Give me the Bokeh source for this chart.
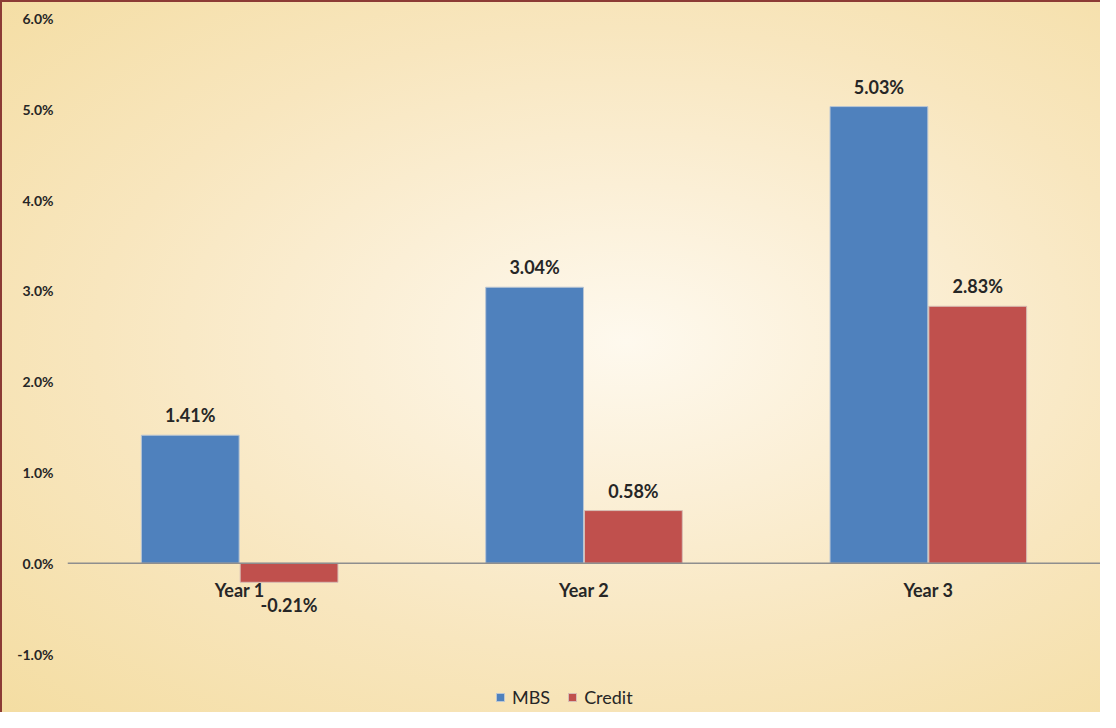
from bokeh.plotting import figure
from bokeh.models import (ColumnDataSource, FactorRange, Range1d, FixedTicker,
                          PrintfTickFormatter, Span, Legend, LegendItem)
from bokeh.transform import dodge
from bokeh.core.properties import value
from bokeh.embed import file_html
from bokeh.resources import INLINE

categories = ["Year 1", "Year 2", "Year 3"]
mbs = [1.41, 3.04, 5.03]
credit = [-0.21, 0.58, 2.83]
y_ticks = [-1, 0, 1, 2, 3, 4, 5, 6]

FONT = "Lato"
BLUE = "#4F81BD"
RED = "#C0504D"
TXT = "#262626"

def fmt(v):
    return f"{v:.2f}%"

src = ColumnDataSource(dict(
    cat=categories,
    mbs=mbs,
    credit=credit,
    zero=[0] * len(categories),
))

p = figure(width=1100, height=712, x_range=FactorRange(*categories, range_padding=0),
           y_range=Range1d(-1.6, 6.0), output_backend="svg", toolbar_location=None,
           min_border_left=67, min_border_right=0, min_border_top=18, min_border_bottom=4)

p.styles = {
    "background-image": "radial-gradient(ellipse farthest-corner at 57% 48%, #FEF9EE 0%, #FBEFD6 30%, #F8E6BE 60%, #F4DDA2 100%)",
    "box-shadow": "inset 2px 2px 0 0 #8C3B35",
}
p.border_fill_alpha = 0
p.background_fill_alpha = 0
p.outline_line_color = None
p.grid.visible = False

r_mbs = p.vbar(x=dodge("cat", -0.1435, range=p.x_range), top="mbs", bottom=0, width=0.284,
               source=src, fill_color=BLUE, line_color="#B9C6D4", line_width=1)
r_cr = p.vbar(x=dodge("cat", 0.1435, range=p.x_range), top="credit", bottom=0, width=0.284,
              source=src, fill_color=RED, line_color="#D6BDB5", line_width=1)

p.add_layout(Span(location=0, dimension="width", line_color="#8E8E8E", line_width=1.5))

LBL = dict(text_font=value(FONT), text_font_size="18px", text_font_style="bold", text_color=TXT,
           text_align="center")

pos_src = ColumnDataSource(dict(
    x=[c for c, v in zip(categories, mbs) if v >= 0],
    y=[v for v in mbs if v >= 0],
    t=[fmt(v) for v in mbs if v >= 0],
))
p.text(x=dodge("x", -0.1435, range=p.x_range), y="y", text="t", source=pos_src,
       text_baseline="bottom", y_offset=-9, **LBL)

cp = [(c, v) for c, v in zip(categories, credit) if v >= 0]
cn = [(c, v) for c, v in zip(categories, credit) if v < 0]
cp_src = ColumnDataSource(dict(x=[c for c, _ in cp], y=[v for _, v in cp], t=[fmt(v) for _, v in cp]))
cn_src = ColumnDataSource(dict(x=[c for c, _ in cn], y=[v for _, v in cn], t=[fmt(v) for _, v in cn]))
p.text(x=dodge("x", 0.1435, range=p.x_range), y="y", text="t", source=cp_src,
       text_baseline="bottom", y_offset=-9, **LBL)
p.text(x=dodge("x", 0.1435, range=p.x_range), y="y", text="t", source=cn_src,
       text_baseline="top", y_offset=12, **LBL)

p.text(x="cat", y="zero", text="cat", source=src, text_baseline="top", y_offset=16, **LBL)

p.xaxis.visible = False
p.yaxis.ticker = FixedTicker(ticks=y_ticks)
p.yaxis.formatter = PrintfTickFormatter(format="%.1f%%")
p.yaxis.axis_line_color = None
p.yaxis.major_tick_line_color = None
p.yaxis.minor_tick_line_color = None
p.yaxis.major_tick_out = 0
p.yaxis.major_tick_in = 0
p.yaxis.major_label_standoff = 14
p.yaxis.major_label_text_font = FONT
p.yaxis.major_label_text_font_size = "14px"
p.yaxis.major_label_text_font_style = "bold"
p.yaxis.major_label_text_color = TXT

legend = Legend(items=[LegendItem(label="MBS", renderers=[r_mbs]),
                       LegendItem(label="Credit", renderers=[r_cr])],
                orientation="horizontal", location=(428, 0),
                background_fill_alpha=0, border_line_color=None,
                glyph_width=10, glyph_height=10, label_text_font=FONT,
                label_text_font_size="18px", label_text_color=TXT,
                spacing=17, label_standoff=7, padding=2, margin=0)
p.add_layout(legend)

open("out.html", "w").write(file_html(p, INLINE))
